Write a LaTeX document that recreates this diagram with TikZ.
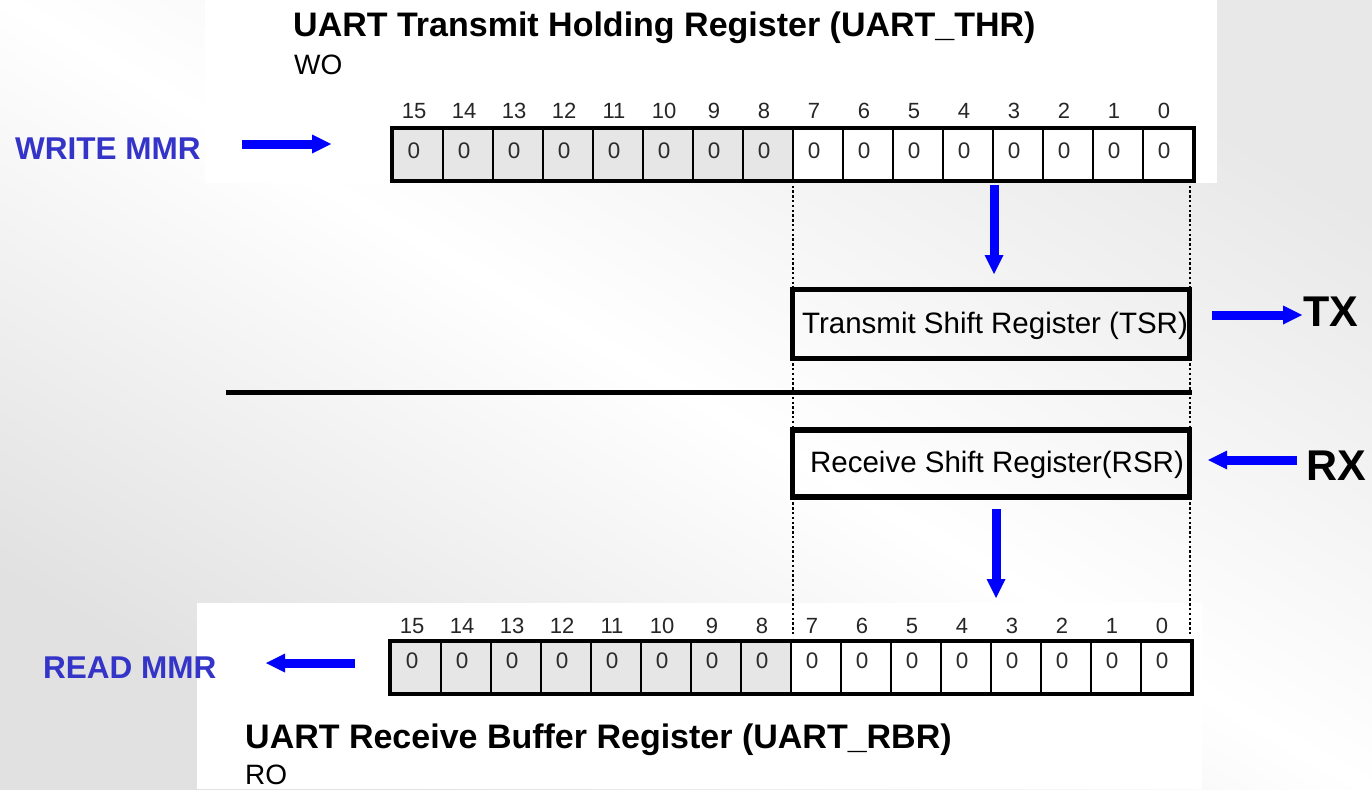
\documentclass[tikz,border=0pt]{standalone}
\usepackage{fontspec}
\setmainfont{Liberation Sans}
\usetikzlibrary{arrows.meta}

\definecolor{bgdark}{HTML}{E1E1E1}
\definecolor{bglight}{HTML}{E8E8E8}
\definecolor{cellgray}{HTML}{E6E6E6}
\definecolor{mmrblue}{HTML}{3434C8}
\definecolor{arrowblue}{HTML}{0000FF}
\definecolor{zerogray}{HTML}{2B2B2B}

\newcommand\fsz[1]{\fontsize{#1}{#1}\selectfont}

\begin{document}
\begin{tikzpicture}[x=1pt,y=-1pt,
  cellbox/.style={draw=black,line width=2pt,minimum width=50pt,minimum height=51pt,inner sep=0pt},
  zero/.style={inner sep=0pt,anchor=base,text=zerogray,font=\fsz{22.5}},
  bitnum/.style={inner sep=0pt,anchor=base,text=black!85,font=\fsz{22}},
  blockarrow/.style={draw=arrowblue,line width=9pt,
    -{Triangle[length=19pt,width=19pt,line width=0pt]}},
  shiftbox/.style={draw=black,line width=5.5pt,minimum width=397pt,inner sep=0pt},
  shifttext/.style={inner sep=0pt,anchor=base,font=\fsz{29.5}},
  dotline/.style={line width=2.4pt,dash pattern=on 2.4pt off 2.4pt},
  regtitle/.style={inner sep=0pt,anchor=base west,font=\bfseries\fsz{34}},
  access/.style={inner sep=0pt,anchor=base west,font=\fsz{28}},
  mmrlabel/.style={inner sep=0pt,anchor=base west,text=mmrblue,font=\bfseries\fsz{31.5}},
  pinlabel/.style={inner sep=0pt,anchor=base west,font=\bfseries\fsz{43}},
]
\useasboundingbox (0,0) rectangle (1372,789);

% soft grey slide background with white panels behind the registers
\shade[top color=bglight,bottom color=bgdark,middle color=white,shading angle=-30]
  (0,0) rectangle (1372,789);
\fill[white] (205,0) rectangle (1217,183);
\fill[white] (197,603) rectangle (1202,789);

% dotted guides marking the low byte
\draw[dotline] (793,152) -- (793,636);
\draw[dotline] (1190,152) -- (1190,636);

% transmit holding register
\node[regtitle] (thrtitle) at (293,37) {UART Transmit Holding Register (UART\_THR)};
\node[access] (thracc) at (294,75) {WO};
\foreach \i in {0,...,15}{
  \pgfmathtruncatemacro\b{15-\i}
  \ifnum\b>7 \def\cf{cellgray}\else\def\cf{white}\fi
  \node[cellbox,fill=\cf] (thr\b) at (418+50*\i,154.5) {};
  \node[zero] (thrz\b) at (414+50*\i,158) {0};
  \node[bitnum] (thrn\b) at (414+50*\i,119) {\b};
}
\draw[line width=4pt] (thr15.north west) rectangle (thr0.south east);

% receive buffer register
\node[regtitle] (rbrtitle) at (245,748) {UART Receive Buffer Register (UART\_RBR)};
\node[access] (rbracc) at (245,784) {RO};
\foreach \i in {0,...,15}{
  \pgfmathtruncatemacro\b{15-\i}
  \ifnum\b>7 \def\cf{cellgray}\else\def\cf{white}\fi
  \node[cellbox,fill=\cf] (rbr\b) at (416+50*\i,667.5) {};
  \node[zero] (rbrz\b) at (412+50*\i,668) {0};
  \node[bitnum] (rbrn\b) at (412+50*\i,633) {\b};
}
\draw[line width=4pt] (rbr15.north west) rectangle (rbr0.south east);

% shift registers
\node[shiftbox,minimum height=69pt] (tsr) at (991,324) {};
\node[shifttext] (tsrtext) at (995,333) {Transmit Shift Register (TSR)};
\node[shiftbox,minimum height=67pt] (rsr) at (991,463.5) {};
\node[shifttext] (rsrtext) at (997,472) {Receive Shift Register(RSR)};

% transmit / receive separator
\draw[line width=5pt] (226,392) -- (1192,392);

% side labels
\node[mmrlabel] (wmmr) at (15,159) {WRITE MMR};
\node[mmrlabel] (rmmr) at (43,678) {READ MMR};
\node[pinlabel] (tx) at (1303,326) {TX};
\node[pinlabel] (rx) at (1306,480) {RX};

% data flow arrows
\coordinate (wa) at (242,144);   \coordinate (wb) at (331,144);
\coordinate (ta) at (994,185);   \coordinate (tb) at (994,274);
\coordinate (xa) at (1212,315);  \coordinate (xb) at (1302,315);
\coordinate (ra) at (1297,460);  \coordinate (rb) at (1208,460);
\coordinate (da) at (996,509);   \coordinate (db) at (996,598);
\coordinate (ma) at (355,663);   \coordinate (mb) at (266,663);
\draw[blockarrow] (wa) -- (wb);
\draw[blockarrow] (ta) -- (tb);
\draw[blockarrow] (xa) -- (xb);
\draw[blockarrow] (ra) -- (rb);
\draw[blockarrow] (da) -- (db);
\draw[blockarrow] (ma) -- (mb);
\end{tikzpicture}
\end{document}
